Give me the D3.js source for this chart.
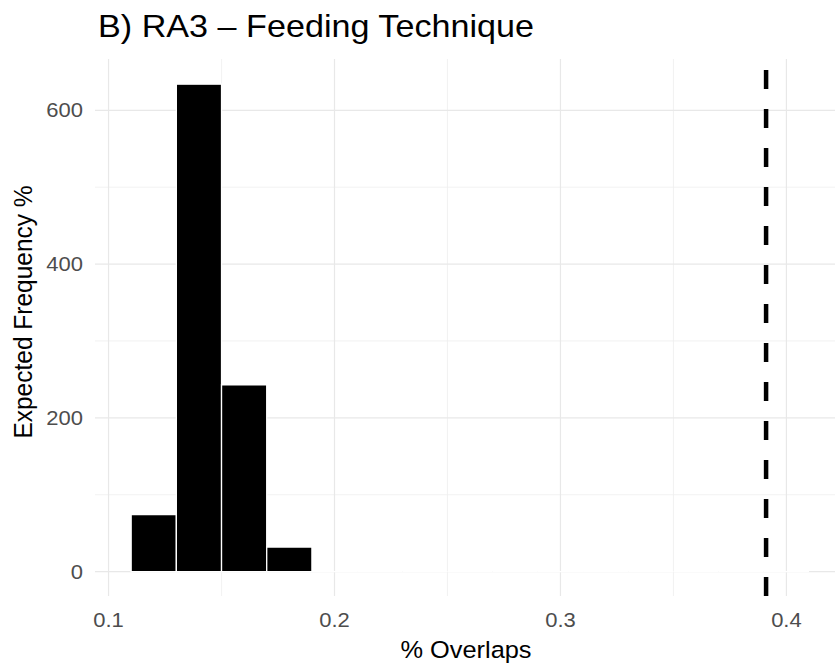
<!DOCTYPE html>
<html>
<head>
<meta charset="utf-8">
<script src="https://cdn.jsdelivr.net/npm/d3@7"></script>
<style>
  html, body { margin: 0; padding: 0; background: #fff; }
  svg { display: block; font-family: "Liberation Sans", Arial, Helvetica, sans-serif; }
</style>
</head>
<body>
<svg id="chart" width="835" height="669"></svg>
<script>
// ---- data ----
const titleText = "B) RA3 \u2013 Feeding Technique";
const xLabel = "% Overlaps";
const yLabel = "Expected Frequency %";
const binStart = [0.11, 0.13, 0.15, 0.17, 0.19, 0.21, 0.23, 0.25, 0.27, 0.29, 0.31, 0.33, 0.35, 0.37, 0.39];
const binWidth = 0.02;
const counts   = [74, 634, 243, 32, 0, 0, 0, 0, 0, 0, 0, 0, 0, 0, 0];
const observed = 0.391;
const xTicks = [0.1, 0.2, 0.3, 0.4];
const xMinor = [0.15, 0.25, 0.35];
const yTicks = [0, 200, 400, 600];
const yMinor = [100, 300, 500];
const xDomain = [0.094, 0.4215];
const yDomain = [-31.75, 666.75];

// ---- layout ----
const panel = { left: 95, right: 835, top: 59, bottom: 596 };
const SX = 1.1; // horizontal glyph stretch seen in the reference

const svg = d3.select("#chart");
const x = d3.scaleLinear().domain(xDomain).range([panel.left, panel.right]);
const y = d3.scaleLinear().domain(yDomain).range([panel.bottom, panel.top]);

const grid = svg.append("g");
// minor grid
grid.selectAll("line.xm").data(xMinor).join("line")
  .attr("x1", d => x(d)).attr("x2", d => x(d))
  .attr("y1", panel.top).attr("y2", panel.bottom)
  .attr("stroke", "#efefef").attr("stroke-width", 0.8);
grid.selectAll("line.ym").data(yMinor).join("line")
  .attr("x1", panel.left).attr("x2", panel.right)
  .attr("y1", d => y(d)).attr("y2", d => y(d))
  .attr("stroke", "#efefef").attr("stroke-width", 0.8);
// major grid
grid.selectAll("line.xM").data(xTicks).join("line")
  .attr("x1", d => x(d)).attr("x2", d => x(d))
  .attr("y1", panel.top).attr("y2", panel.bottom)
  .attr("stroke", "#e8e8e8").attr("stroke-width", 1.2);
grid.selectAll("line.yM").data(yTicks).join("line")
  .attr("x1", panel.left).attr("x2", panel.right)
  .attr("y1", d => y(d)).attr("y2", d => y(d))
  .attr("stroke", "#e8e8e8").attr("stroke-width", 1.2);

// bars (paths so that zero-height bins still draw their white outline)
const bins = binStart.map((s, i) => ({ x0: s, x1: s + binWidth, n: counts[i] }));
svg.append("g").selectAll("path").data(bins).join("path")
  .attr("d", d => {
    const a = x(d.x0), b = x(d.x1), t = y(d.n), z = y(0);
    return `M${a},${z}L${a},${t}L${b},${t}L${b},${z}Z`;
  })
  .attr("fill", "#000")
  .attr("stroke", "#fff")
  .attr("stroke-width", 1.3);

// observed dashed line (drawn bottom to top)
svg.append("line")
  .attr("x1", x(observed)).attr("x2", x(observed))
  .attr("y1", panel.bottom).attr("y2", panel.top)
  .attr("stroke", "#000").attr("stroke-width", 4.5)
  .attr("stroke-dasharray", "19 20");

// tick labels
const tickColor = "#4d4d4d";
svg.append("g").selectAll("text").data(xTicks).join("text")
  .attr("transform", d => `translate(${x(d)},627) scale(${SX},1)`)
  .attr("text-anchor", "middle")
  .attr("font-size", 20)
  .attr("fill", tickColor)
  .text(d => d3.format(".1f")(d));
svg.append("g").selectAll("text").data(yTicks).join("text")
  .attr("transform", d => `translate(83,${y(d) + 7}) scale(${SX},1)`)
  .attr("text-anchor", "end")
  .attr("font-size", 20)
  .attr("fill", tickColor)
  .text(d => d);

// axis titles
svg.append("text")
  .attr("transform", `translate(466,658) scale(1.08,1)`)
  .attr("text-anchor", "middle")
  .attr("font-size", 23.5)
  .attr("fill", "#000")
  .text(xLabel);
svg.append("text")
  .attr("transform", `translate(32,312) rotate(-90) scale(1,1.05)`)
  .attr("text-anchor", "middle")
  .attr("font-size", 24.5)
  .attr("fill", "#000")
  .text(yLabel);

// title
svg.append("text")
  .attr("transform", `translate(98,37) scale(1.12,1)`)
  .attr("font-size", 30.5)
  .attr("fill", "#000")
  .text(titleText);
</script>
</body>
</html>
